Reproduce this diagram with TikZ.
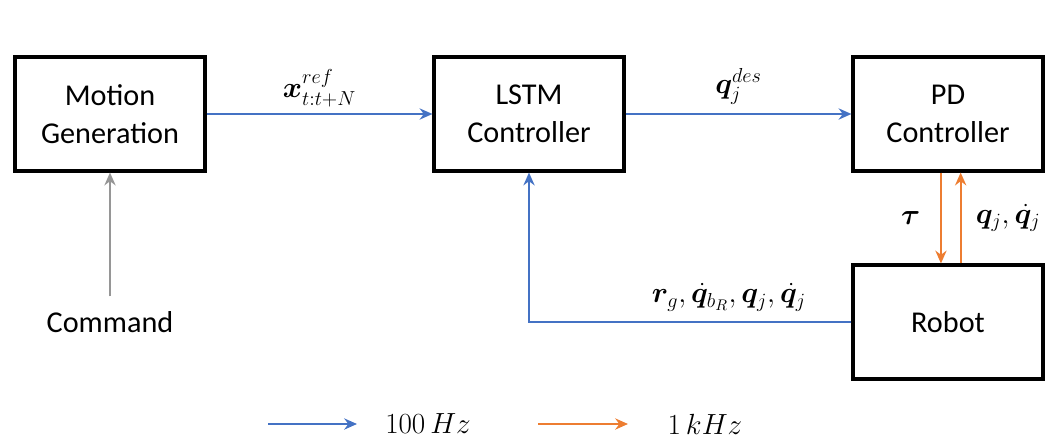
\documentclass[tikz,border=0pt]{standalone}
\usepackage{amsmath}
\usepackage{bm}
\usepackage[no-math]{fontspec}
\setmainfont{Carlito}
\usetikzlibrary{arrows.meta,positioning}
\definecolor{flowblue}{RGB}{68,114,196}
\definecolor{floworange}{RGB}{237,125,49}
\definecolor{cmdgray}{RGB}{150,150,150}

\tikzset{
  block/.style={draw, line width=2.2pt, minimum width=4.75cm, minimum height=2.85cm,
    align=center, font=\fontsize{21.5}{27}\selectfont},
  slow/.style={flowblue, line width=1.6pt, -{Stealth[length=3.2mm,width=2.8mm]}},
  fast/.style={floworange, line width=1.6pt, -{Stealth[length=3.2mm,width=2.8mm]}},
  cmdline/.style={cmdgray, line width=1.6pt, -{Stealth[length=3.2mm,width=2.8mm]}},
  sig/.style={text=black, inner sep=2pt, font=\fontsize{22}{26}\selectfont}
}

\begin{document}
\begin{tikzpicture}[x=0.025cm, y=-0.025cm]

\useasboundingbox (0,0) rectangle (1045,441);


\node (mg) at (110, 114) [block] {Motion\\Generation};

\node (lstm) at (529, 114) [block] {LSTM\\Controller};

\node (pd) at (948, 114) [block] {PD\\Controller};

\node (rob) at (948, 322) [block] {Robot};

\node (cmd) at (110, 322) [sig, font=\fontsize{21.5}{27}\selectfont] {Command};



\draw [cmdline] (cmd.north) ++(0,-12) coordinate (cmdtop) (cmdtop) -- (mg.south);

\draw [slow] (mg.east) -- (lstm.west) node [midway, above=2pt, sig] {$\bm{x}_{t:t+N}^{ref}$};

\draw [slow] (lstm.east) -- (pd.west) node [midway, above=4pt, sig] {$\bm{q}_j^{des}$};

\draw [slow] (rob.west) -| (lstm.south) node [pos=0.19, above=5pt, sig] {$\bm{r}_g, \dot{\bm{q}}_{b_R}, \bm{q}_j, \dot{\bm{q}}_j$};



\draw [fast] ([xshift=-5]pd.south) -- ([xshift=-5]rob.north) node [midway, left=12pt, sig] {$\bm{\tau}$};

\draw [fast] ([xshift=9]rob.north) -- ([xshift=9]pd.south) node [midway, right=8pt, sig] {$\bm{q}_j, \dot{\bm{q}}_j$};



% legend
\coordinate (slowa) at (268, 424);
\coordinate (slowb) at (357, 424);
\coordinate (fasta) at (538, 424);
\coordinate (fastb) at (628, 424);

\draw [slow] (slowa) -- (slowb);
\draw [fast] (fasta) -- (fastb);

\node (slowtxt) at (428, 424) [sig] {$100\,Hz$};
\node (fasttxt) at (705, 424) [sig] {$1\,kHz$};

\end{tikzpicture}
\end{document}
